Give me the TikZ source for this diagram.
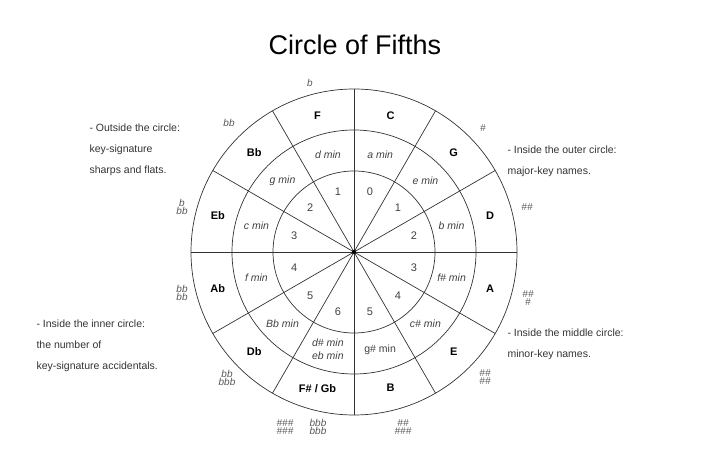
\documentclass[tikz,border=0pt]{standalone}
\usepackage{fontspec}
\setmainfont{Liberation Sans}
\begin{document}
\begin{tikzpicture}[x=1pt,y=1pt,
  major/.style={font=\fontsize{11}{12}\selectfont\bfseries},
  minor/.style={font=\fontsize{10.5}{13}\selectfont\itshape, text=black!75, align=center},
  num/.style={font=\fontsize{11}{12}\selectfont, text=black!75},
  acc/.style={font=\fontsize{10}{8.5}\selectfont\itshape, text=black!65, align=center},
  note/.style={font=\fontsize{10.5}{21}\selectfont, text=black!80, align=left, anchor=north west},
  ring/.style={draw=black!80, line width=0.7pt}]
\useasboundingbox (0,0) rectangle (720,468);
\coordinate (O) at (354,216);
\node[font=\fontsize{27}{30}\selectfont] (title) at (355,423) {Circle of Fifths};
\draw[ring] (O) circle (163);
\draw[ring] (O) circle (122);
\draw[ring] (O) circle (81);
\foreach \a in {0,30,...,330} \draw[ring] (O) -- ++(\a:163);
\fill (O) circle (2.2);
\foreach \a/\M/\m/\n [count=\i] in {75/C/a min/0, 45/G/e min/1, 15/D/b min/2, -15/A/f\# min/3, -45/E/c\# min/4, -75/B/{\upshape g\# min}/5, -105/{F\# / Gb}/{d\# min\\eb min}/6, -135/Db/Bb min/5, -165/Ab/f min/4, 165/Eb/c min/3, 135/Bb/g min/2, 105/F/d min/1}{
  \node[major] (M\i) at ([shift={(\a:141)}]O) {\M};
  \node[minor] (m\i) at ([shift={(\a:101)}]O) {\m};
  \node[num] (n\i) at ([shift={(\a:62)}]O) {\n};
}
\node[acc] (a1) at (310,385) {b};
\node[acc] (a2) at (229,345) {bb};
\node[acc] (a3) at (483,340) {\#};
\node[acc] (a4) at (182,261) {b\\bb};
\node[acc] (a5) at (527,261) {\#\#};
\node[acc] (a6) at (182,175) {bb\\bb};
\node[acc] (a7) at (528,170) {\#\#\\\#};
\node[acc] (a8) at (227,90) {bb\\bbb};
\node[acc] (a9) at (485,91) {\#\#\\\#\#};
\node[acc] (a10) at (285,41) {\#\#\#\\\#\#\#};
\node[acc] (a11) at (318,41) {bbb\\bbb};
\node[acc] (a12) at (403,41) {\#\#\\\#\#\#};
\node[note] (t1) at (86,348) {- Outside the circle:\\key-signature\\sharps and flats.};
\node[note] (t2) at (504,326) {- Inside the outer circle:\\major-key names.};
\node[note] (t3) at (33,152) {- Inside the inner circle:\\the number of\\key-signature accidentals.};
\node[note] (t4) at (504,143) {- Inside the middle circle:\\minor-key names.};
\end{tikzpicture}
\end{document}
